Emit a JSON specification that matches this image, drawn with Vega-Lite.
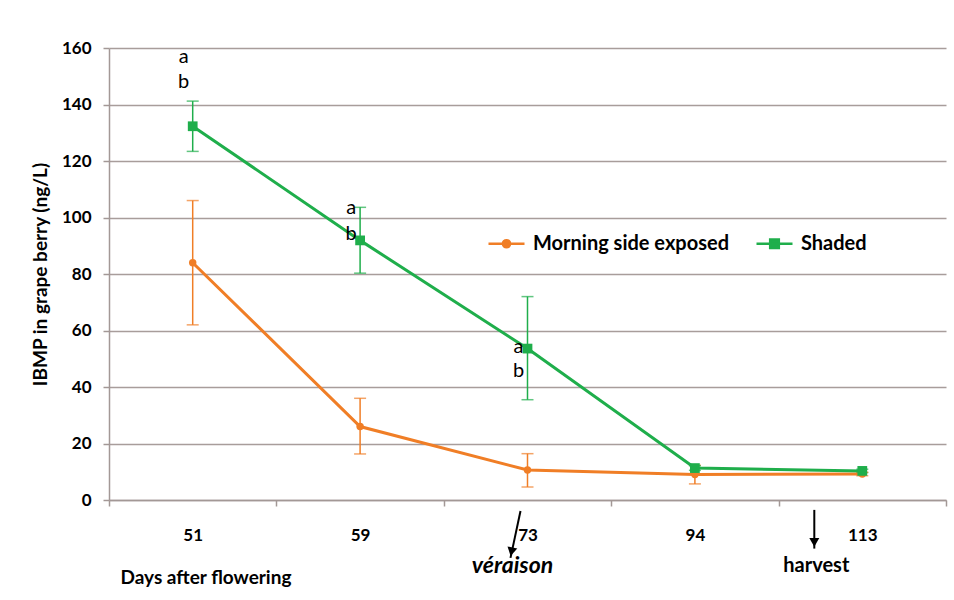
{
  "$schema": "https://vega.github.io/schema/vega-lite/v6.json",
  "width": 837,
  "height": 452,
  "autosize": {"type": "none"},
  "padding": {"left": 109, "top": 48, "right": 8, "bottom": 100},
  "background": "white",
  "config": {"view": {"stroke": null}, "font": "Lato"},
  "datasets": {
    "series": [
      {"day": "51", "series": "Morning side exposed", "mean": 84, "low": 62, "high": 106},
      {"day": "59", "series": "Morning side exposed", "mean": 26, "low": 16.3, "high": 36},
      {"day": "73", "series": "Morning side exposed", "mean": 10.6, "low": 4.6, "high": 16.4},
      {"day": "94", "series": "Morning side exposed", "mean": 9, "low": 5.7, "high": 12.3},
      {"day": "113", "series": "Morning side exposed", "mean": 9.2, "low": 8.6, "high": 9.8},
      {"day": "51", "series": "Shaded", "mean": 132.3, "low": 123.4, "high": 141.2},
      {"day": "59", "series": "Shaded", "mean": 91.9, "low": 80.3, "high": 103.6},
      {"day": "73", "series": "Shaded", "mean": 53.6, "low": 35.5, "high": 72},
      {"day": "94", "series": "Shaded", "mean": 11.3, "low": 10.5, "high": 12.1},
      {"day": "113", "series": "Shaded", "mean": 10.3, "low": 9.7, "high": 10.9}
    ],
    "letters": [
      {"day": "51", "letter": "a", "y": 156.8},
      {"day": "51", "letter": "b", "y": 148},
      {"day": "59", "letter": "a", "y": 103.4},
      {"day": "59", "letter": "b", "y": 94.2},
      {"day": "73", "letter": "a", "y": 54.2},
      {"day": "73", "letter": "b", "y": 45.7}
    ],
    "notes": [
      {"day": "73", "label": "véraison", "y": -23.4, "arrowTop": -3.9, "arrowBottom": -20.5, "headY": -18.3},
      {"day": "113", "label": "harvest", "y": -23.4, "arrowTop": -3.5, "arrowBottom": -17.2, "headY": -15.0}
    ]
  },
  "layer": [
    {
      "data": {"name": "series"},
      "mark": {"type": "errorbar", "ticks": {"size": 12}, "thickness": 1.5},
      "encoding": {
        "x": {
          "field": "day", "type": "ordinal", "sort": ["51", "59", "73", "94", "113"],
          "scale": {"type": "band", "paddingInner": 0, "paddingOuter": 0},
          "axis": {
            "title": "Days after flowering", "labelAngle": 0, "labelFont": "Lato", "labelFontWeight": "bold",
            "labelFontSize": 17, "labelColor": "black", "domainColor": "#A39896", "domainWidth": 1.5,
            "tickColor": "#A39896", "tickWidth": 1.5, "tickSize": 6, "tickBand": "extent", "labelPadding": 21, "grid": false,
            "titleFont": "Lato", "titleFontSize": 19, "titleFontWeight": "bold", "titleColor": "black",
            "titleAnchor": "start", "titleAlign": "left", "titleX": 11, "titleY": 77, "titleBaseline": "middle"
          }
        },
        "y": {
          "field": "low", "type": "quantitative", "scale": {"domain": [0, 160]},
          "axis": {
            "title": "IBMP in grape berry (ng/L)", "values": [0, 20, 40, 60, 80, 100, 120, 140, 160],
            "labelFont": "Lato", "labelFontWeight": "bold", "labelFontSize": 17, "labelColor": "black",
            "labelPadding": 12, "tickSize": 6, "tickColor": "#A39896", "tickWidth": 1.5,
            "domainColor": "#A39896", "domainWidth": 1.5, "gridColor": "#A89D9B", "gridWidth": 1.5,
            "titleFont": "Lato", "titleFontSize": 19, "titleFontWeight": "bold", "titleColor": "black", "titlePadding": 11
          }
        },
        "y2": {"field": "high"},
        "color": {"field": "series", "type": "nominal", "scale": {"domain": ["Morning side exposed", "Shaded"], "range": ["#F07E26", "#1FAE4B"]}}
      }
    },
    {
      "data": {"name": "series"},
      "mark": {"type": "line", "strokeWidth": 3},
      "encoding": {
        "x": {"field": "day", "type": "ordinal", "sort": ["51", "59", "73", "94", "113"]},
        "y": {"field": "mean", "type": "quantitative"},
        "color": {
          "field": "series", "type": "nominal",
          "legend": {
            "orient": "none", "legendX": 378, "legendY": 176, "direction": "horizontal", "title": null,
            "labelFont": "Lato", "labelFontSize": 20, "labelFontWeight": "bold", "labelColor": "black", "labelLimit": 0,
            "symbolSize": 1296, "symbolStrokeWidth": 2.5, "columnPadding": 22, "labelOffset": 7,
            "encode": {
              "symbols": {
                "update": {
                  "shape": {"signal": "datum.value === 'Shaded' ? 'M-1,0H1M-0.24,-0.24H0.24V0.24H-0.24Z' : 'M-1,0H1M-0.2,0A0.2,0.2,0,1,1,0.2,0A0.2,0.2,0,1,1,-0.2,0Z'"},
                  "fill": {"signal": "scale('color', datum.value)"},
                  "strokeWidth": {"value": 2.5}
                }
              }
            }
          }
        }
      }
    },
    {
      "data": {"name": "series"},
      "transform": [{"filter": "datum.series === 'Morning side exposed'"}],
      "mark": {"type": "point", "shape": "circle", "filled": true, "size": 55, "color": "#F07E26", "opacity": 1},
      "encoding": {
        "x": {"field": "day", "type": "ordinal", "sort": ["51", "59", "73", "94", "113"]},
        "y": {"field": "mean", "type": "quantitative"}
      }
    },
    {
      "data": {"name": "series"},
      "transform": [{"filter": "datum.series === 'Shaded'"}],
      "mark": {"type": "point", "shape": "square", "filled": true, "size": 95, "color": "#1FAE4B", "opacity": 1},
      "encoding": {
        "x": {"field": "day", "type": "ordinal", "sort": ["51", "59", "73", "94", "113"]},
        "y": {"field": "mean", "type": "quantitative"}
      }
    },
    {
      "data": {"name": "letters"},
      "mark": {"type": "text", "font": "Lato", "fontSize": 20, "color": "black", "dx": -9, "baseline": "middle"},
      "encoding": {
        "x": {"field": "day", "type": "ordinal", "sort": ["51", "59", "73", "94", "113"]},
        "y": {"field": "y", "type": "quantitative"},
        "text": {"field": "letter"}
      }
    },
    {
      "data": {"name": "notes"},
      "transform": [{"filter": "datum.label === 'véraison'"}],
      "layer": [
        {
          "mark": {"type": "text", "font": "Lato", "fontSize": 23, "fontWeight": "bold", "fontStyle": "italic", "color": "black", "dx": -15, "baseline": "middle"},
          "encoding": {
            "x": {"field": "day", "type": "ordinal", "sort": ["51", "59", "73", "94", "113"]},
            "y": {"field": "y", "type": "quantitative"},
            "text": {"field": "label"}
          }
        },
        {
          "mark": {"type": "rule", "color": "black", "strokeWidth": 2, "xOffset": -7, "x2Offset": -17},
          "encoding": {
            "x": {"field": "day", "type": "ordinal", "sort": ["51", "59", "73", "94", "113"]},
            "x2": {"field": "day"},
            "y": {"field": "arrowTop", "type": "quantitative"},
            "y2": {"field": "arrowBottom"}
          }
        },
        {
          "mark": {"type": "point", "shape": "triangle-down", "filled": true, "size": 100, "color": "black", "opacity": 1, "angle": 12, "xOffset": -16},
          "encoding": {
            "x": {"field": "day", "type": "ordinal", "sort": ["51", "59", "73", "94", "113"]},
            "y": {"field": "headY", "type": "quantitative"}
          }
        }
      ]
    },
    {
      "data": {"name": "notes"},
      "transform": [{"filter": "datum.label === 'harvest'"}],
      "layer": [
        {
          "mark": {"type": "text", "font": "Lato", "fontSize": 20, "fontWeight": "bold", "color": "black", "dx": -46, "baseline": "middle"},
          "encoding": {
            "x": {"field": "day", "type": "ordinal", "sort": ["51", "59", "73", "94", "113"]},
            "y": {"field": "y", "type": "quantitative"},
            "text": {"field": "label"}
          }
        },
        {
          "mark": {"type": "rule", "color": "black", "strokeWidth": 2, "xOffset": -48, "x2Offset": -48},
          "encoding": {
            "x": {"field": "day", "type": "ordinal", "sort": ["51", "59", "73", "94", "113"]},
            "x2": {"field": "day"},
            "y": {"field": "arrowTop", "type": "quantitative"},
            "y2": {"field": "arrowBottom"}
          }
        },
        {
          "mark": {"type": "point", "shape": "triangle-down", "filled": true, "size": 100, "color": "black", "opacity": 1, "xOffset": -48},
          "encoding": {
            "x": {"field": "day", "type": "ordinal", "sort": ["51", "59", "73", "94", "113"]},
            "y": {"field": "headY", "type": "quantitative"}
          }
        }
      ]
    }
  ]
}
